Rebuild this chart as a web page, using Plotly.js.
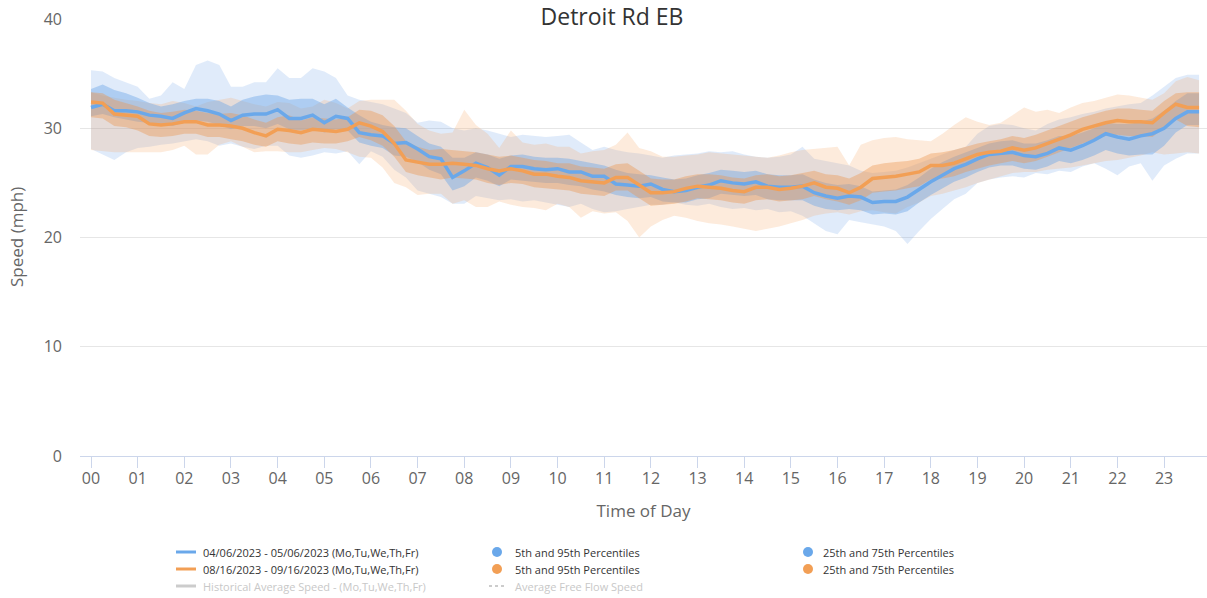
<!DOCTYPE html>
<html>
<head>
<meta charset="utf-8">
<script src="https://cdn.plot.ly/plotly-3.0.1.min.js"></script>
<style>html,body{margin:0;padding:0;background:#fff;}#chart{width:1207px;height:598px;}</style>
</head>
<body>
<div id="chart"></div>
<script>
// Time of day in 15-minute steps (hours)
const hourTicks = ['00','01','02','03','04','05','06','07','08','09','10','11','12','13','14','15','16','17','18','19','20','21','22','23'];
const quarterIndex = Array.from({length: 96}, (_, i) => i);

// Series 1: 04/06/2023 - 05/06/2023
const blueMedian = [31.9,32.2,31.6,31.6,31.5,31.2,31.1,30.9,31.4,31.8,31.6,31.3,30.7,31.2,31.3,31.3,31.7,30.9,30.9,31.2,30.5,31.1,30.9,29.6,29.4,29.3,28.6,28.7,28.1,
27.4,27.2,25.5,26.1,26.8,26.4,25.7,26.5,26.5,26.3,26.2,26.3,26.0,26.0,25.6,25.6,24.9,24.8,24.7,24.9,24.4,
24.2,24.3,24.6,24.8,25.2,25.0,24.9,25.1,24.7,24.6,24.6,24.7,24.1,23.8,23.6,23.8,23.7,23.2,23.3,23.3,23.7,24.4,25.1,25.7,26.3,26.7,
27.2,27.6,27.7,27.8,27.5,27.4,27.7,28.2,28.0,28.4,28.9,29.5,29.2,29.0,29.3,29.5,30.0,30.9,31.5,31.5];
const blueP95 = [35.3,35.2,34.6,34.2,33.8,32.7,33.0,34.2,33.6,35.8,36.2,35.8,33.8,33.8,34.2,34.2,35.5,34.6,34.6,35.5,35.2,34.6,33.0,32.6,32.4,32.2,31.8,31.4,30.5,
30.7,30.6,30.0,29.8,30.0,29.8,29.5,29.2,29.4,29.3,29.2,29.3,29.4,28.7,28.0,28.3,28.0,27.8,27.7,27.5,27.3,
27.5,27.6,27.7,27.9,27.8,27.9,27.6,27.4,27.3,27.4,27.6,28.3,27.2,27.0,26.8,26.6,26.1,25.9,26.0,26.1,26.4,26.8,27.2,27.6,28.0,28.3,
29.5,30.2,30.4,30.3,30.0,29.8,30.4,30.8,31.0,31.3,31.5,31.8,32.0,32.2,32.3,33.0,33.8,34.6,34.9,34.9];
const blueP5 = [28.1,27.6,27.1,27.8,28.2,28.3,28.5,28.6,28.8,29.0,28.8,28.4,28.6,28.3,28.1,28.4,28.4,27.5,27.3,27.5,27.8,27.7,27.9,26.7,27.9,27.4,26.2,25.5,24.3,
24.0,23.7,23.1,23.1,23.8,23.6,23.4,23.5,23.3,23.4,23.2,23.0,22.8,23.1,22.6,22.3,22.4,22.6,22.8,23.0,23.0,
23.2,23.0,22.9,23.1,22.8,22.6,22.7,22.5,22.6,22.3,22.4,22.0,21.3,20.6,20.3,21.6,21.4,21.2,21.0,20.6,19.4,20.6,21.7,22.6,23.5,24.0,
25.0,25.3,25.5,25.6,25.5,25.9,25.8,26.1,26.0,26.5,26.8,26.3,25.7,26.5,26.8,25.2,26.6,27.2,27.7,27.7];
const blueP75 = [33.6,34.0,33.5,33.2,32.8,32.3,32.0,32.2,32.5,32.7,32.7,32.5,32.0,32.6,32.9,33.1,33.0,32.6,32.7,32.7,32.2,32.7,31.9,31.2,30.6,30.3,30.1,30.0,29.3,
28.6,28.3,27.3,27.3,27.8,27.6,27.2,27.5,27.6,27.4,27.3,27.3,27.2,27.0,26.8,26.6,26.2,25.9,25.8,25.7,25.5,
25.3,25.4,25.7,25.9,26.2,26.1,26.0,26.1,25.8,25.7,25.7,25.8,25.3,25.0,24.8,24.9,24.7,24.2,24.3,24.4,24.8,25.5,26.3,26.9,27.4,27.8,
28.2,28.6,28.8,28.9,28.6,28.6,28.9,29.3,29.3,29.6,30.0,30.5,30.4,30.4,30.6,30.9,31.6,32.5,33.2,33.2];
const blueP25 = [31.1,31.3,31.0,30.8,30.6,30.5,30.3,30.2,30.5,30.7,30.6,30.3,29.9,30.2,30.2,30.0,30.4,29.9,29.8,30.0,29.6,29.9,29.8,28.7,28.4,28.2,27.5,27.4,26.9,
26.2,25.8,24.3,24.7,25.5,25.2,24.7,25.3,25.2,25.1,25.0,25.0,24.8,24.7,24.4,24.2,23.9,23.7,23.6,23.7,23.3,
23.2,23.2,23.5,23.6,24.0,23.9,23.8,23.9,23.5,23.4,23.4,23.4,22.9,22.6,22.5,22.6,22.5,22.1,22.2,22.1,22.4,23.2,23.9,24.5,25.1,25.5,
26.0,26.4,26.6,26.6,26.3,26.2,26.5,27.0,26.8,27.1,27.5,28.0,27.7,27.5,27.6,27.6,28.4,29.6,30.3,30.3];

// Series 2: 08/16/2023 - 09/16/2023
const orangeMedian = [32.4,32.3,31.3,31.2,31.1,30.4,30.3,30.4,30.6,30.6,30.3,30.3,30.2,30.0,29.6,29.3,29.9,29.8,29.6,29.9,29.8,29.7,29.9,30.5,30.2,29.7,28.6,27.1,26.9,
26.7,26.7,26.8,26.7,26.6,26.3,26.1,26.3,26.1,25.8,25.8,25.6,25.5,25.2,25.1,25.0,25.5,25.5,24.8,24.1,24.1,
24.2,24.5,24.7,24.6,24.5,24.3,24.2,24.6,24.6,24.4,24.5,24.7,25.0,24.6,24.5,24.1,24.6,25.4,25.5,25.6,25.8,26.0,26.6,26.6,26.8,27.2,
27.6,27.8,27.9,28.2,28.0,28.2,28.6,29.0,29.4,29.9,30.2,30.5,30.7,30.6,30.6,30.5,31.4,32.2,31.9,31.9];
const orangeP95 = [33.3,33.0,32.8,32.6,32.5,32.3,32.2,32.5,32.3,32.0,32.4,32.6,32.8,32.5,32.2,32.0,32.4,32.3,31.8,32.0,32.6,32.3,31.8,32.5,32.6,32.6,32.6,31.6,30.4,
29.8,29.5,29.6,31.7,30.3,29.5,28.2,29.8,28.7,28.5,28.6,28.3,28.3,27.7,27.9,28.0,28.5,29.6,28.2,27.9,27.4,
27.4,27.5,27.6,27.8,27.7,27.6,27.5,27.4,27.3,27.5,27.8,28.0,28.1,28.2,28.3,26.6,28.5,28.9,29.1,29.2,29.0,28.9,28.8,29.5,30.3,31.0,
30.6,30.3,30.5,31.2,31.9,31.5,31.7,31.4,31.9,32.3,32.5,32.8,33.1,33.0,32.8,32.6,33.2,34.3,34.7,34.4];
const orangeP5 = [28.0,27.9,27.8,27.8,27.8,27.8,27.8,28.0,28.4,27.6,27.6,28.5,28.8,28.3,27.8,27.9,27.9,27.8,27.8,28.0,28.2,28.1,27.8,27.4,27.3,26.4,25.0,24.6,23.9,
24.0,24.0,23.1,23.4,22.8,22.8,23.3,23.0,22.8,22.7,22.5,23.1,22.8,21.8,22.4,22.2,22.3,21.5,20.0,21.0,21.6,
22.0,21.8,21.5,21.3,21.2,21.0,20.8,20.6,20.8,21.0,21.3,21.6,22.0,22.2,22.3,22.1,22.4,22.5,22.3,22.2,22.8,23.2,23.8,24.0,24.3,24.6,
25.0,25.3,25.6,25.9,26.0,26.0,26.2,26.3,26.4,26.6,26.8,27.0,27.1,27.3,27.5,27.8,27.6,27.7,27.8,27.7];
const orangeP75 = [33.3,33.2,32.6,32.3,32.0,31.6,31.4,31.5,31.7,31.6,31.4,31.3,31.4,31.2,30.8,30.5,31.0,31.2,30.7,31.0,30.9,30.8,31.0,31.7,31.6,31.2,30.2,28.8,28.3,
28.0,28.1,28.0,27.9,27.8,27.6,27.4,27.5,27.3,27.1,27.0,26.8,26.8,26.5,26.4,26.3,26.7,26.8,26.1,25.4,25.3,
25.3,25.6,25.8,25.8,25.7,25.5,25.4,25.7,25.8,25.6,25.7,25.9,26.1,25.8,25.7,25.4,25.9,26.6,26.8,26.9,27.0,27.2,27.7,27.8,28.0,28.3,
28.6,28.8,29.0,29.3,29.1,29.4,29.8,30.2,30.6,31.0,31.3,31.6,31.8,31.8,31.7,31.6,32.5,33.2,33.3,33.3];
const orangeP25 = [31.0,30.9,30.2,30.1,29.8,29.3,29.2,29.3,29.5,29.5,29.2,29.2,29.0,28.8,28.5,28.3,28.8,28.6,28.5,28.7,28.6,28.6,28.8,29.2,28.9,28.4,27.4,26.0,25.7,
25.5,25.3,25.5,25.4,25.3,25.0,24.8,25.0,24.9,24.6,24.5,24.4,24.3,24.0,23.9,23.8,24.3,24.3,23.6,22.9,23.0,
23.1,23.3,23.6,23.5,23.4,23.2,23.1,23.4,23.5,23.3,23.4,23.5,23.8,23.5,23.3,23.0,23.4,24.1,24.2,24.3,24.5,24.7,25.3,25.4,25.6,26.0,
26.3,26.6,26.8,27.0,26.8,27.0,27.4,27.8,28.2,28.6,29.0,29.3,29.4,29.3,29.3,29.2,30.0,30.8,30.2,30.1];

const legendLabels = ['04/06/2023 - 05/06/2023 (Mo,Tu,We,Th,Fr)', '08/16/2023 - 09/16/2023 (Mo,Tu,We,Th,Fr)', 'Historical Average Speed - (Mo,Tu,We,Th,Fr)', '5th and 95th Percentiles', '25th and 75th Percentiles', 'Average Free Flow Speed'];

const BLUE = '#6aa8ea', ORANGE = '#f29f55';
const x = quarterIndex.map(i => i / 4);

function band(lo, hi, color) {
  return [
    {x: x, y: lo, type: 'scatter', mode: 'lines', line: {width: 0, color: color}, hoverinfo: 'skip', showlegend: false},
    {x: x, y: hi, type: 'scatter', mode: 'lines', line: {width: 0, color: color}, fill: 'tonexty', fillcolor: color, hoverinfo: 'skip', showlegend: false}
  ];
}

const data = [
  ...band(blueP5, blueP95, 'rgba(112,166,232,0.22)'),
  ...band(orangeP5, orangeP95, 'rgba(246,163,96,0.22)'),
  ...band(blueP25, blueP75, 'rgba(106,164,232,0.42)'),
  ...band(orangeP25, orangeP75, 'rgba(236,150,80,0.40)'),
  {x: x, y: blueMedian, type: 'scatter', mode: 'lines', line: {color: BLUE, width: 3.5}, hoverinfo: 'skip', showlegend: false},
  {x: x, y: orangeMedian, type: 'scatter', mode: 'lines', line: {color: ORANGE, width: 3.5}, hoverinfo: 'skip', showlegend: false}
];

// pixel helpers for the legend (plot area: x 80..1207, y 19..456)
const L = 80, R = 1207, T = 19, B = 456;
const px = v => (v - L) / (R - L);
const py = v => (B - v) / (B - T);

const legendFont = {family: 'Open Sans, sans-serif', size: 11, color: '#333'};
const greyFont = {family: 'Open Sans, sans-serif', size: 11, color: '#c8c8c8'};
const rows = [552, 569, 586];

const annotations = [
  {text: 'Speed (mph)', xref: 'paper', yref: 'paper', x: px(17), y: py(237), xanchor: 'center', yanchor: 'middle', textangle: -90, showarrow: false, font: {family: 'Open Sans, sans-serif', size: 17, color: '#666'}},
  {text: legendLabels[0], xref: 'paper', yref: 'paper', x: px(201), y: py(rows[0]), xanchor: 'left', yanchor: 'middle', showarrow: false, font: legendFont},
  {text: legendLabels[1], xref: 'paper', yref: 'paper', x: px(201), y: py(rows[1]), xanchor: 'left', yanchor: 'middle', showarrow: false, font: legendFont},
  {text: legendLabels[2], xref: 'paper', yref: 'paper', x: px(201), y: py(rows[2]), xanchor: 'left', yanchor: 'middle', showarrow: false, font: greyFont},
  {text: legendLabels[3], xref: 'paper', yref: 'paper', x: px(513), y: py(rows[0]), xanchor: 'left', yanchor: 'middle', showarrow: false, font: legendFont},
  {text: legendLabels[3], xref: 'paper', yref: 'paper', x: px(513), y: py(rows[1]), xanchor: 'left', yanchor: 'middle', showarrow: false, font: legendFont},
  {text: legendLabels[5], xref: 'paper', yref: 'paper', x: px(513), y: py(rows[2]), xanchor: 'left', yanchor: 'middle', showarrow: false, font: greyFont},
  {text: legendLabels[4], xref: 'paper', yref: 'paper', x: px(821), y: py(rows[0]), xanchor: 'left', yanchor: 'middle', showarrow: false, font: legendFont},
  {text: legendLabels[4], xref: 'paper', yref: 'paper', x: px(821), y: py(rows[1]), xanchor: 'left', yanchor: 'middle', showarrow: false, font: legendFont}
];

function hline(x0, x1, yy, color, dash) {
  return {type: 'line', xref: 'paper', yref: 'paper', x0: px(x0), x1: px(x1), y0: py(yy), y1: py(yy), line: {color: color, width: dash ? 2 : 3, dash: dash || 'solid'}};
}
function dot(cx, cy, color) {
  const r = 5;
  return {type: 'circle', xref: 'paper', yref: 'paper', x0: px(cx - r), x1: px(cx + r), y0: py(cy + r), y1: py(cy - r), fillcolor: color, line: {width: 0}};
}
const shapes = [
  hline(176, 196, rows[0], BLUE),
  hline(176, 196, rows[1], ORANGE),
  hline(176, 196, rows[2], '#cccccc'),
  hline(489, 506, rows[2], '#cccccc', 'dot'),
  dot(497, rows[0], BLUE), dot(497, rows[1], ORANGE),
  dot(808, rows[0], BLUE), dot(808, rows[1], ORANGE)
];

const layout = {
  width: 1207, height: 598,
  margin: {l: L, r: 1207 - R, t: T, b: 598 - B, pad: 0},
  paper_bgcolor: '#fff', plot_bgcolor: '#fff',
  showlegend: false,
  title: {text: 'Detroit Rd EB', x: 612 / 1207, xref: 'container', y: 1 - 17 / 598, yref: 'container', xanchor: 'center', yanchor: 'middle', font: {family: 'Open Sans, sans-serif', size: 23, color: '#333'}},
  xaxis: {
    range: [-0.236, 23.92], tickvals: hourTicks.map((_, i) => i), ticktext: hourTicks,
    showgrid: false, zeroline: false, showline: true, linecolor: '#ccd6eb', linewidth: 1,
    ticks: 'outside', ticklen: 11, tickcolor: '#ccd6eb', tickwidth: 1,
    ticklabelstandoff: -3,
    tickfont: {family: 'Open Sans, sans-serif', size: 16, color: '#666'},
    title: {text: 'Time of Day', font: {family: 'Open Sans, sans-serif', size: 17, color: '#666'}, standoff: 16},
    fixedrange: true
  },
  yaxis: {
    range: [0, 40], tickvals: [0, 10, 20, 30, 40],
    showgrid: true, gridcolor: '#e6e6e6', gridwidth: 1, zeroline: false, showline: false,
    ticks: '', tickfont: {family: 'Open Sans, sans-serif', size: 16, color: '#666'},
    ticklabelstandoff: 17,
    fixedrange: true
  },
  annotations: annotations,
  shapes: shapes
};

Plotly.newPlot('chart', data, layout, {staticPlot: true, displayModeBar: false});
</script>
</body>
</html>
